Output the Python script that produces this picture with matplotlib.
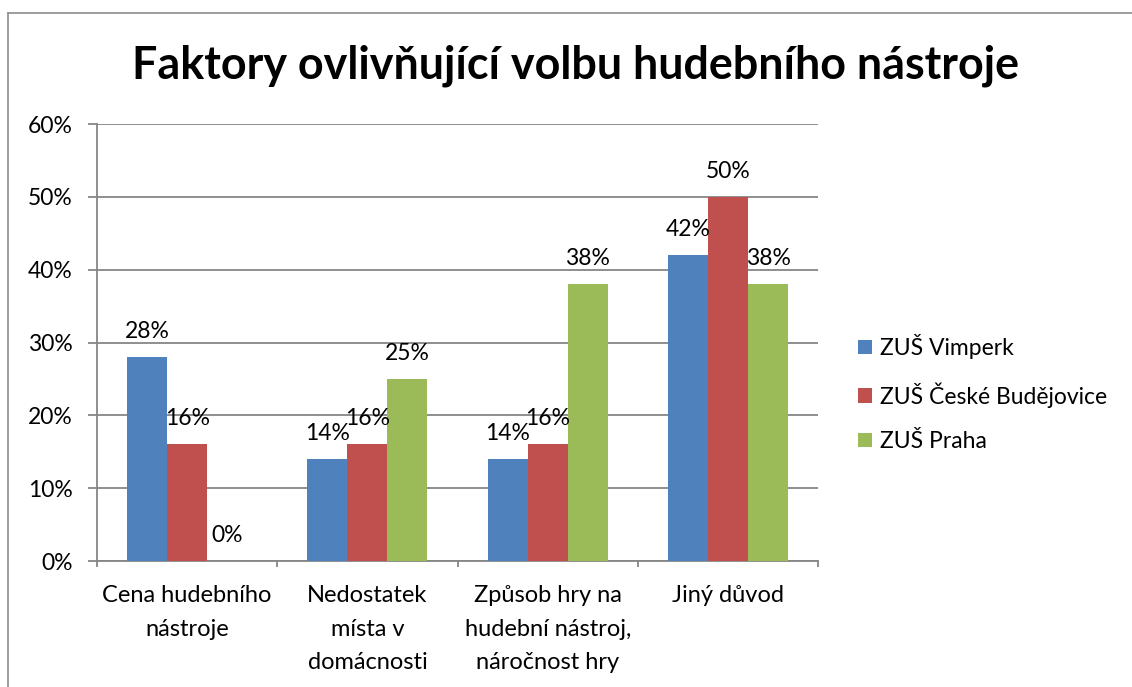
import matplotlib
matplotlib.use("Agg")
import matplotlib.pyplot as plt
import numpy as np
from matplotlib.lines import Line2D

categories = ["Cena hudebního\nnástroje", "Nedostatek\nmísta v\ndomácnosti",
              "Způsob hry na\nhudební nástroj,\nnáročnost hry", "Jiný důvod"]
series_names = ["ZUŠ Vimperk", "ZUŠ České Budějovice", "ZUŠ Praha"]
vimperk = [28, 14, 14, 42]
budejovice = [16, 16, 16, 50]
praha = [0, 25, 38, 38]
colors = ["#4F81BD", "#C0504D", "#9BBB59"]
yticks = [0, 10, 20, 30, 40, 50, 60]


def main():
    plt.rcParams['font.family'] = ['Lato', 'DejaVu Sans']
    fig = plt.figure(figsize=(11.32, 6.87), dpi=100)
    ax = fig.add_axes([0.0857, 0.1834, 0.637, 0.636])

    # outer chart frame (only left and top edges are inside the picture)
    fx, fy = 7.5 / 1132, 1 - 12.5 / 687
    fig.lines.append(Line2D([fx, fx], [0, fy], transform=fig.transFigure,
                            color="#8c8c8c", linewidth=1.2))
    fig.lines.append(Line2D([fx, 1], [fy, fy], transform=fig.transFigure,
                            color="#8c8c8c", linewidth=1.2))

    x = np.arange(len(categories))
    w = 0.222
    for i, (vals, name) in enumerate(zip([vimperk, budejovice, praha], series_names)):
        bars = ax.bar(x + (i - 1) * w, vals, w, color=colors[i], label=name, zorder=3)
        for b, v in zip(bars, vals):
            ax.annotate(f"{v}%", (b.get_x() + b.get_width() / 2, v),
                        xytext=(0, 13.7), textcoords="offset points",
                        ha="center", va="baseline", fontsize=16.5, zorder=4)

    ax.set_xlim(-0.5, len(categories) - 0.5)
    ax.set_ylim(0, 60)
    ax.set_yticks(yticks)
    ax.set_yticklabels([f"{t}%" for t in yticks], fontsize=16.5)
    ax.grid(axis="y", color="#868686", linewidth=1.3, zorder=0)

    ax.set_xticks(np.arange(-0.5, len(categories), 1))
    ax.set_xticklabels([""] * (len(categories) + 1))
    ax.set_xticks(x, minor=True)
    ax.set_xticklabels(categories, minor=True, fontsize=17, linespacing=1.72)
    ax.tick_params(axis="x", which="minor", length=0, pad=17.5)
    ax.tick_params(axis="x", which="major", length=4.3, color="#868686", width=1.3)
    ax.tick_params(axis="y", length=6.5, color="#868686", width=1.3, pad=11)

    for s in ["top", "right"]:
        ax.spines[s].set_visible(False)
    for s in ["left", "bottom"]:
        ax.spines[s].set_color("#868686")
        ax.spines[s].set_linewidth(1.3)

    fig.text(0.508, 0.905, "Faktory ovlivňující volbu hudebního nástroje",
             ha="center", va="center", fontsize=32.3, fontweight="bold")

    fig.legend(loc="center left", bbox_to_anchor=(858 / 1132, 1 - 393 / 687),
               frameon=False, fontsize=16.5, borderpad=0, borderaxespad=0,
               handlelength=0.6, handleheight=0.6,
               handletextpad=0.35, labelspacing=1.02)

    fig.savefig("out.png", dpi=100)


if __name__ == "__main__":
    main()
